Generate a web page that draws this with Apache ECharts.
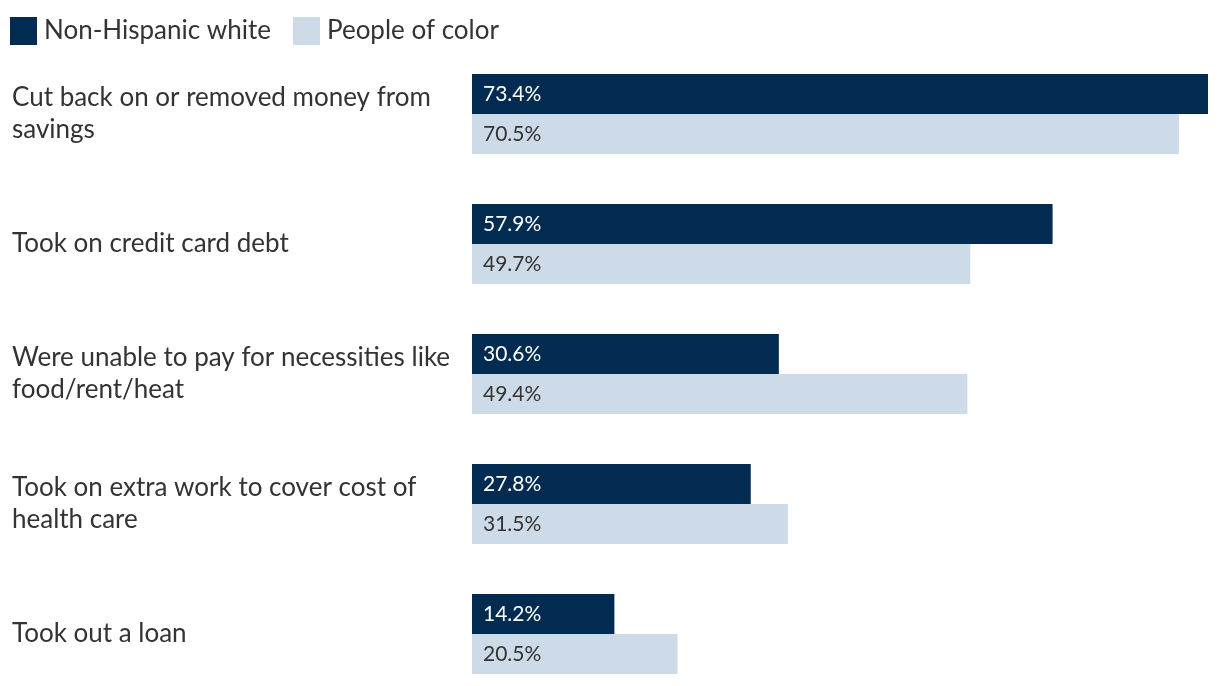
<!DOCTYPE html>
<html><head><meta charset="utf-8">
<script src="https://cdn.jsdelivr.net/npm/echarts@6/dist/echarts.min.js"></script>
<style>html,body{margin:0;padding:0;background:#fff;overflow:hidden}#c{width:1220px;height:699px}</style>
</head><body><div id="c"></div>
<script>
const categories = [
  "Cut back on or removed money from\nsavings",
  "Took on credit card debt",
  "Were unable to pay for necessities like\nfood/rent/heat",
  "Took on extra work to cover cost of\nhealth care",
  "Took out a loan"
];
const seriesNames = ["Non-Hispanic white", "People of color"];
const whiteValues = [73.4, 57.9, 30.6, 27.8, 14.2];
const colorValues = [70.5, 49.7, 49.4, 31.5, 20.5];

const FONT = 'Lato';
const chart = echarts.init(document.getElementById('c'), null, {renderer:'canvas'});
chart.setOption({
  animation: false,
  textStyle: {fontFamily: FONT},
  legend: {
    left: 10, top: 17, padding: 0,
    itemWidth: 27, itemHeight: 28, itemGap: 22,
    icon: 'rect',
    textStyle: {fontSize: 26, color: '#333', fontFamily: FONT, padding: [0,0,0,2]},
    data: seriesNames
  },
  grid: {left: 472, right: 12, top: 49, bottom: 0, containLabel: false},
  xAxis: {type: 'value', min: 0, max: 73.4, show: false},
  yAxis: {
    type: 'category', inverse: true, data: categories,
    axisLine: {show: false}, axisTick: {show: false},
    axisLabel: {align: 'left', margin: 460, fontSize: 26, color: '#333', lineHeight: 32, fontFamily: FONT, padding: [6,0,0,0]}
  },
  series: [
    {name: seriesNames[0], type: 'bar', data: whiteValues, barWidth: 40, barGap: '0%',
     itemStyle: {color: '#022b51'},
     label: {show: true, position: 'insideLeft', distance: 11, formatter: p => p.value.toFixed(1) + '%', color: '#fff', fontSize: 21, fontFamily: FONT}},
    {name: seriesNames[1], type: 'bar', data: colorValues, barWidth: 40, barGap: '0%',
     itemStyle: {color: '#cddae7'},
     label: {show: true, position: 'insideLeft', distance: 11, formatter: p => p.value.toFixed(1) + '%', color: '#333', fontSize: 21, fontFamily: FONT}}
  ]
});
</script></body></html>
